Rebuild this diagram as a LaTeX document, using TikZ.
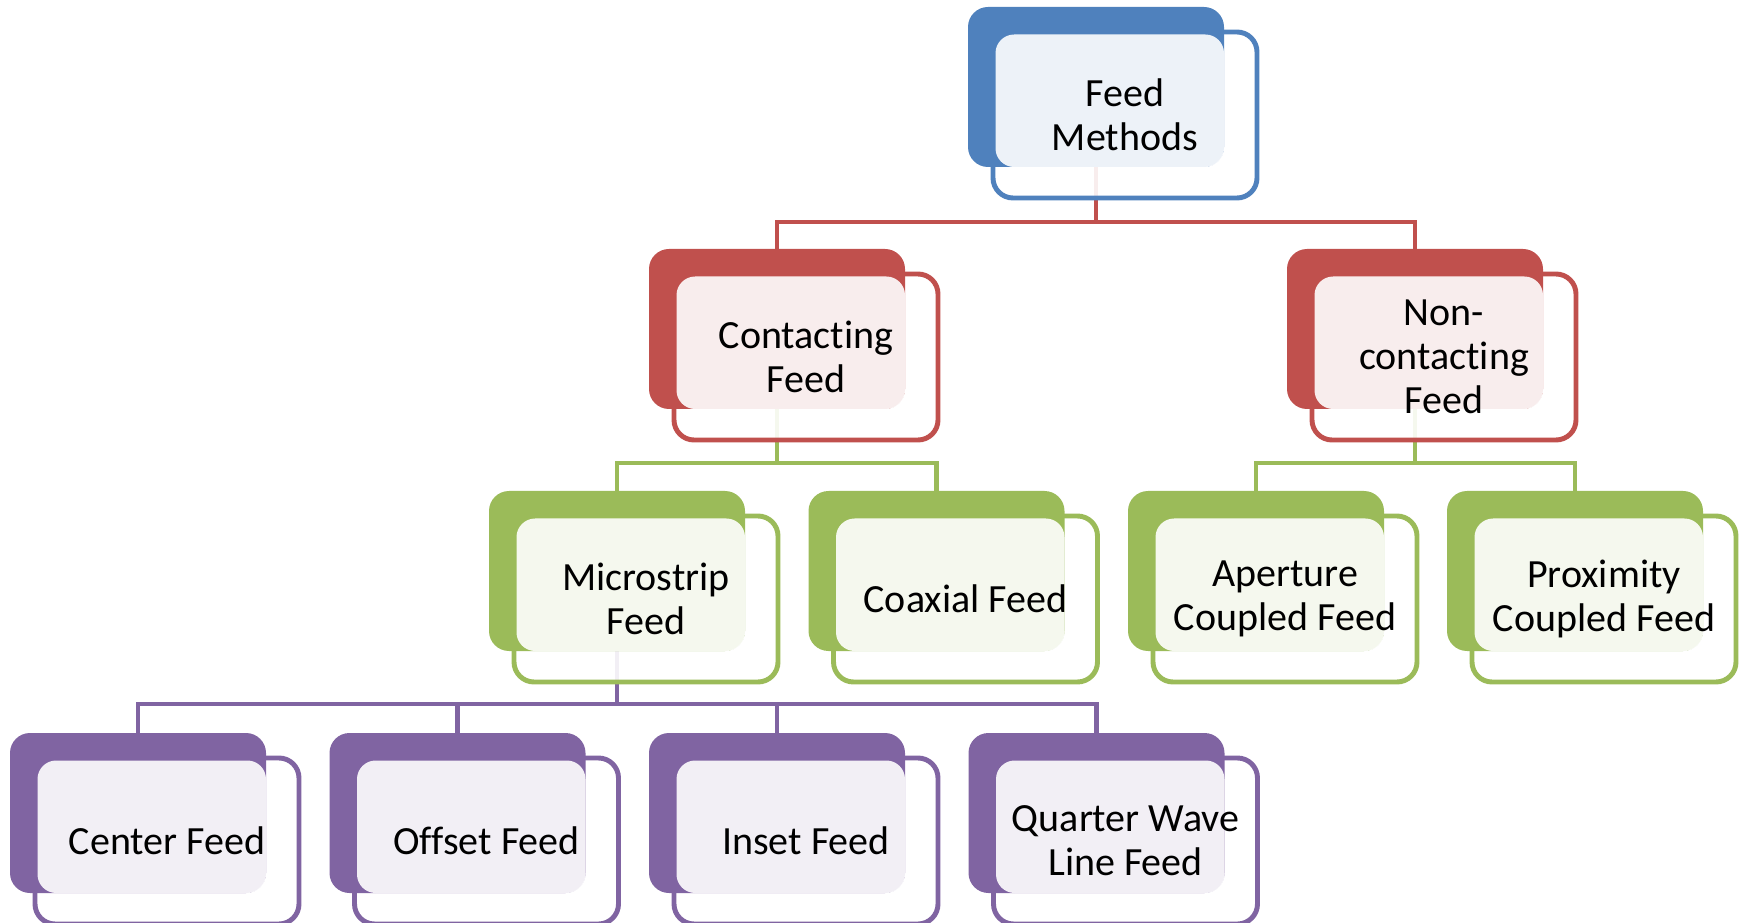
\documentclass[tikz,border=0pt]{standalone}
\usepackage{fontspec}
\setmainfont{Carlito}[Ligatures=NoCommon]
\usetikzlibrary{calc}
\pgfdeclarelayer{bg}
\pgfsetlayers{bg,main}
\definecolor{cblue}{HTML}{4F81BD}
\definecolor{cred}{HTML}{C0504D}
\definecolor{cgreen}{HTML}{9BBB59}
\definecolor{cpurple}{HTML}{8064A2}
\tikzset{
  backbox/.style={fill=#1, rounded corners=15pt, inner sep=0pt, outer sep=0pt,
    minimum width=192pt, minimum height=120pt, anchor=north west},
  frontbox/.style={draw=#1, line width=3.7pt, fill=white, fill opacity=.9,
    rounded corners=15pt, inner sep=0pt, outer sep=0pt,
    minimum width=198pt, minimum height=124.5pt, anchor=north west},
  labeltext/.style={align=center, inner sep=0pt,
    font=\fontsize{30pt}{33.2pt}\selectfont},
  link/.style={draw=#1, line width=3.6pt, line join=miter},
}
% one two-layer box: outline card, solid card, tinted overlap, caption
\newcommand\feedbox[4]{%
  \node[frontbox=#3] (#1) at ($#2+(25,25)$) {};
  \node[backbox=#3] (#1-b) at #2 {};
  \fill[white, opacity=.9, rounded corners=14pt]
    ($(#1.north west)+(2.5,2.5)$) rectangle (#1-b.south east);
  \node[labeltext] (#1-t) at (#1.center) {#4};
}
\begin{document}
\begin{tikzpicture}[x=0.75pt, y=-0.75pt]
\useasboundingbox (0,0) rectangle (1743,923);
\feedbox{top}{(968,7)}{cblue}{Feed\\Methods}
\feedbox{cont}{(649,249)}{cred}{Contacting\\Feed}
\feedbox{ncont}{(1287,249)}{cred}{Non-\\contacting\\Feed}
\feedbox{micro}{(489,491)}{cgreen}{Microstrip\\Feed}
\feedbox{coax}{(808.5,491)}{cgreen}{Coaxial Feed}
\feedbox{aper}{(1128,491)}{cgreen}{Aperture\\Coupled Feed}
\feedbox{prox}{(1447,491)}{cgreen}{Proximity\\Coupled Feed}
\feedbox{center}{(10,733)}{cpurple}{Center Feed}
\feedbox{offset}{(329.5,733)}{cpurple}{Offset Feed}
\feedbox{inset}{(649,733)}{cpurple}{Inset Feed}
\feedbox{quarter}{(968.5,733)}{cpurple}{Quarter Wave\\Line Feed}
\begin{pgfonlayer}{bg}
  \foreach \c in {cont,ncont}
    \draw[link=cred] (top-b.south) -- ++(0,55) -| (\c-b.north);
  \foreach \c in {micro,coax}
    \draw[link=cgreen] (cont-b.south) -- ++(0,54) -| (\c-b.north);
  \foreach \c in {aper,prox}
    \draw[link=cgreen] (ncont-b.south) -- ++(0,54) -| (\c-b.north);
  \foreach \c in {center,offset,inset,quarter}
    \draw[link=cpurple] (micro-b.south) -- ++(0,53) -| (\c-b.north);
\end{pgfonlayer}
\end{tikzpicture}
\end{document}
